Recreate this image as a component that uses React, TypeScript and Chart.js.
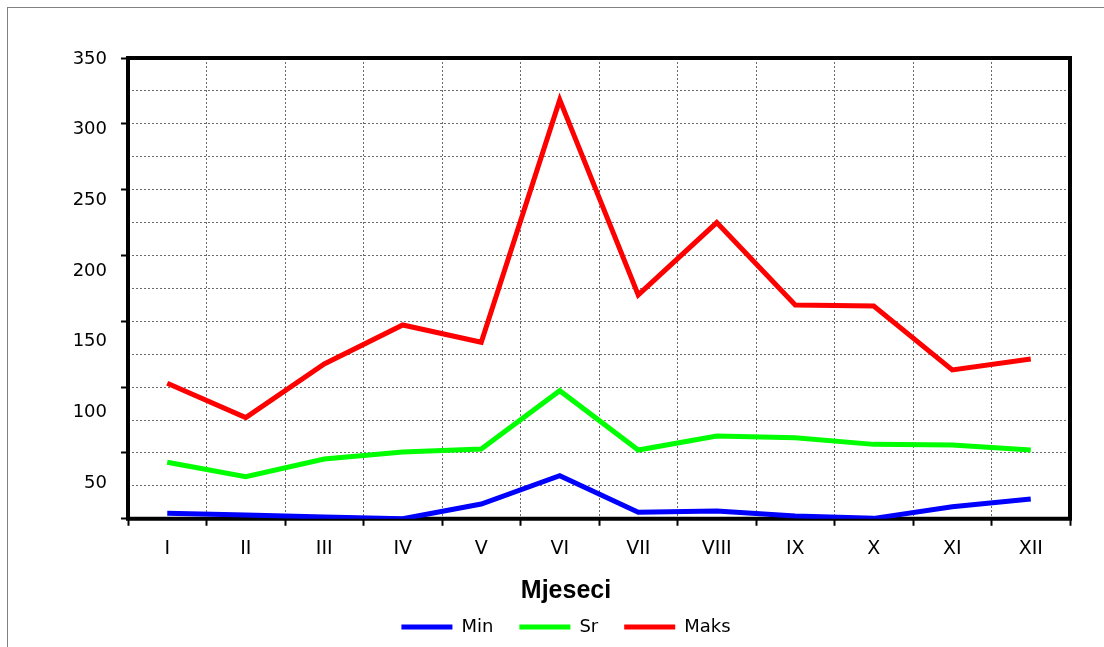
import React, { useEffect, useRef } from 'react';
import { Chart, registerables } from 'chart.js';

Chart.register(...registerables);

// ---- data ----
const months = ['I', 'II', 'III', 'IV', 'V', 'VI', 'VII', 'VIII', 'IX', 'X', 'XI', 'XII'];
const minValues = [4.1, 2.8, 1.3, 0, 11.2, 32.7, 4.9, 5.9, 2.1, 0.3, 9.1, 15.0];
const srValues = [42.9, 31.9, 45.4, 50.7, 53.0, 97.3, 52.2, 62.8, 61.6, 56.5, 56.0, 52.2];
const maxValues = [102.9, 76.8, 117.6, 147.2, 134.1, 318.2, 170.0, 225.0, 162.4, 161.6, 113.0, 121.4];
const yTickLabels = ['350', '300', '250', '200', '150', '100', '50'];
const seriesNames = ['Min', 'Sr', 'Maks'];
const xAxisTitle = 'Mjeseci';

// ---- style ----
const FONT = "'DejaVu Sans', sans-serif";
const Y_LABEL_SPACING = 70.67;
const Y_LABEL_RIGHT = 107;

const framePlugin = {
  id: 'frame',
  beforeDraw(chart: any) {
    const { ctx } = chart;
    ctx.save();
    ctx.strokeStyle = '#808080';
    ctx.lineWidth = 1;
    ctx.strokeRect(7.5, 7.5, chart.width, chart.height);
    ctx.restore();
  },
  beforeDatasetsDraw(chart: any) {
    const { ctx, chartArea } = chart;
    ctx.save();
    ctx.strokeStyle = '#000';
    ctx.lineWidth = 4;
    ctx.strokeRect(chartArea.left, chartArea.top, chartArea.right - chartArea.left, chartArea.bottom - chartArea.top);
    ctx.restore();
  },
  afterDraw(chart: any) {
    const { ctx, chartArea } = chart;
    ctx.save();
    ctx.font = `18px ${FONT}`;
    ctx.fillStyle = '#000';
    ctx.textAlign = 'right';
    ctx.textBaseline = 'middle';
    yTickLabels.forEach((t, i) => {
      ctx.fillText(t, Y_LABEL_RIGHT, chartArea.top + 1 + i * Y_LABEL_SPACING);
    });
    ctx.restore();
  },
};

export default function App() {
  const ref = useRef<HTMLCanvasElement>(null);
  useEffect(() => {
    if (!ref.current) return;
    const mk = (label: string, data: number[], color: string) => ({
      label,
      data,
      borderColor: color,
      backgroundColor: color,
      borderWidth: 5,
      pointRadius: 0,
      pointHoverRadius: 0,
      tension: 0,
      fill: false,
      borderJoinStyle: 'miter' as const,
    });
    const chart = new Chart(ref.current, {
      type: 'line',
      data: {
        labels: months,
        datasets: [
          mk(seriesNames[0], minValues, '#0000ff'),
          mk(seriesNames[1], srValues, '#00ff00'),
          mk(seriesNames[2], maxValues, '#ff0000'),
        ],
      },
      options: {
        responsive: false,
        animation: false,
        layout: { padding: { left: 62, right: 34, top: 58, bottom: 1 } },
        scales: {
          x: {
            offset: true,
            grid: {
              offset: true,
              color: '#6a6a6a',
              lineWidth: 1,
              tickLength: 7,
              tickWidth: 2,
              tickColor: '#000',
            },
            border: { display: false, dash: [2, 2] },
            ticks: { color: '#000', font: { family: FONT, size: 19 }, padding: 12, maxRotation: 0, autoSkip: false },
            afterFit: (s: any) => { s.height = 43; },
          },
          y: {
            min: 0,
            max: 350,
            grid: {
              color: '#6a6a6a',
              lineWidth: 1,
              tickLength: 7,
              tickWidth: 2,
              tickColor: (c: any) => (c.tick && c.tick.value % 50 === 0 ? '#000' : 'rgba(0,0,0,0)'),
            },
            border: { display: false, dash: [2, 2] },
            ticks: { display: false, stepSize: 25 },
            afterFit: (s: any) => { s.width = 66; },
          },
        },
        plugins: {
          tooltip: { enabled: false },
          title: {
            display: true,
            text: xAxisTitle,
            position: 'bottom',
            weight: 500,
            color: '#000',
            font: { family: "'Liberation Sans', Arial, sans-serif", size: 25, weight: 'bold', lineHeight: 0.05 },
            padding: { top: 29, bottom: 0 },
          },
          legend: {
            position: 'bottom',
            labels: {
              usePointStyle: true,
              pointStyle: 'line',
              pointStyleWidth: 51,
              color: '#000',
              font: { family: FONT, size: 18 },
              padding: 26,
            },
          },
        },
      },
      plugins: [framePlugin],
    });
    return () => chart.destroy();
  }, []);
  return (
    <div style={{ position: 'fixed', left: 0, top: 0, width: 1104, height: 647, overflow: 'hidden', background: '#fff' }}>
      <canvas ref={ref} width={1104} height={647} style={{ display: 'block' }} />
    </div>
  );
}
